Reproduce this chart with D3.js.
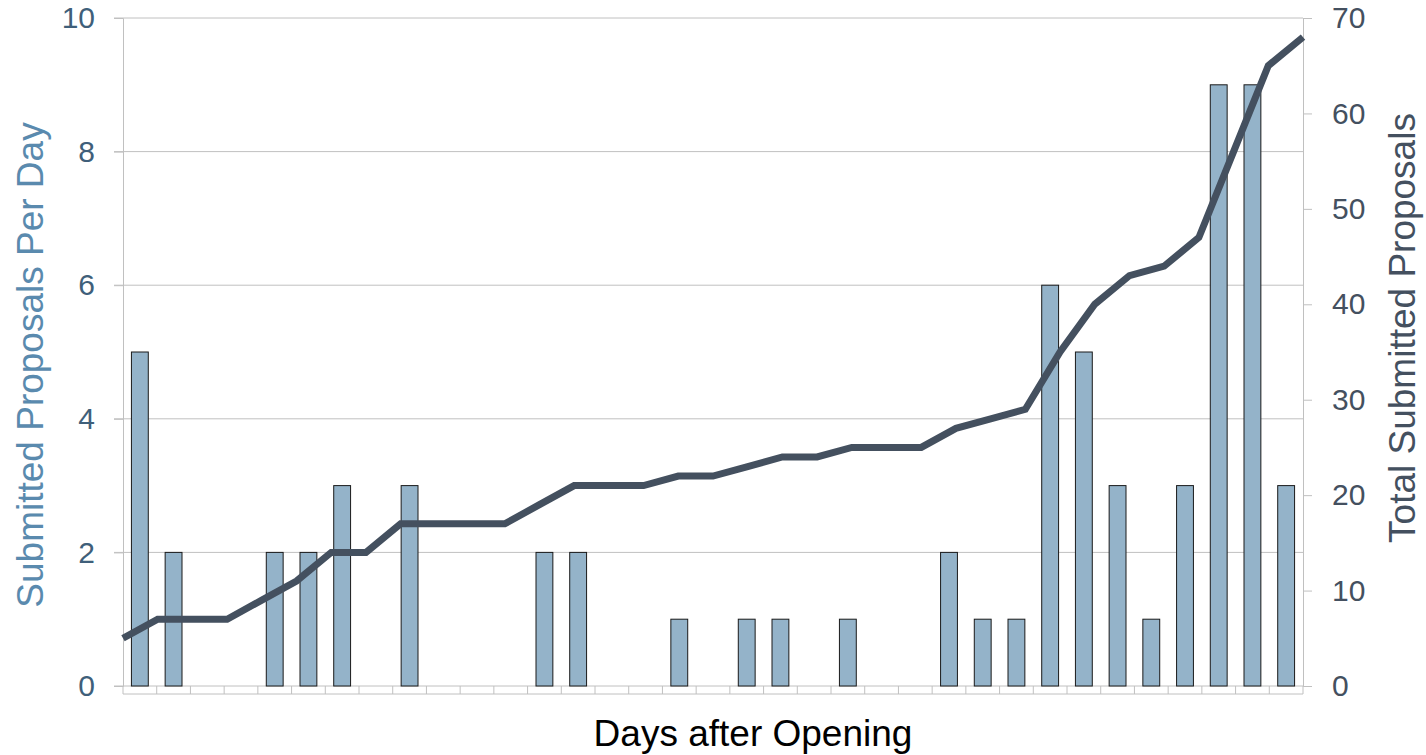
<!DOCTYPE html>
<html><head><meta charset="utf-8">
<script src="https://cdn.jsdelivr.net/npm/d3@7"></script>
<style>body{margin:0;background:#fff;}svg{display:block;font-family:"Liberation Sans",Arial,sans-serif;}</style>
</head><body><svg id="c" width="1426" height="755"></svg>
<script>
const days = d3.range(1, 36);
const perDay = [5,2,0,0,2,2,3,0,3,0,0,0,2,2,0,0,1,0,1,1,0,1,0,0,2,1,1,6,5,3,1,3,9,9,3];
const total = [5,7,7,7,9,11,14,14,17,17,17,17,19,21,21,21,22,22,23,24,24,25,25,25,27,28,29,35,40,43,44,47,56,65,68];
const leftTicks = [0,2,4,6,8,10];
const rightTicks = [0,10,20,30,40,50,60,70];

const svg = d3.select("#c");
const L = 123, R = 1303, T = 18, B = 686;
const x = d3.scaleBand().domain(days).range([L, R]).paddingInner(0.5).paddingOuter(0.25);
const xb = d3.scaleBand().domain(days).range([L, R]);
const xl = d3.scalePoint().domain(days).range([L, R]);
const yL = d3.scaleLinear().domain([0, 10]).range([B, T]);
const yR = d3.scaleLinear().domain([0, 70]).range([B, T]);
const grid = "#c0c0c0";
const ff = "Liberation Sans, Arial, sans-serif";

// gridlines
svg.append("g").selectAll("line").data(leftTicks.filter(d => d > 0)).join("line")
  .attr("x1", L - 9).attr("x2", R).attr("y1", d => yL(d)).attr("y2", d => yL(d))
  .attr("stroke", grid).attr("stroke-width", 1);

// left axis
const gl = svg.append("g").attr("transform", `translate(${L},0)`)
  .call(d3.axisLeft(yL).tickValues(leftTicks).tickSize(9).tickPadding(19));
gl.select(".domain").attr("stroke", grid);
gl.selectAll(".tick line").attr("stroke", grid);
gl.selectAll("text").attr("fill", "#3f5f7a").style("font-size", "30px").style("font-family", ff);

// right axis
const gr = svg.append("g").attr("transform", `translate(${R},0)`)
  .call(d3.axisRight(yR).tickValues(rightTicks).tickSize(9).tickPadding(20));
gr.select(".domain").attr("stroke", grid);
gr.selectAll(".tick line").attr("stroke", grid);
gr.selectAll("text").attr("fill", "#44505f").style("font-size", "30px").style("font-family", ff);

// bottom axis
svg.append("line").attr("x1", L - 9).attr("x2", R).attr("y1", B).attr("y2", B).attr("stroke", grid);
svg.append("line").attr("x1", L).attr("x2", R).attr("y1", B + 8).attr("y2", B + 8).attr("stroke", grid);
svg.append("g").selectAll("line").data(days).join("line")
  .attr("x1", d => xb(d)).attr("x2", d => xb(d)).attr("y1", B).attr("y2", B + 8).attr("stroke", grid);
svg.append("line").attr("x1", R).attr("x2", R).attr("y1", B).attr("y2", B + 8).attr("stroke", grid);

// bars
svg.append("g").selectAll("rect").data(days.map((d, i) => ({d, v: perDay[i]})).filter(e => e.v > 0)).join("rect")
  .attr("x", e => x(e.d)).attr("width", x.bandwidth())
  .attr("y", e => yL(e.v)).attr("height", e => yL(0) - yL(e.v))
  .attr("fill", "#94b3c9").attr("stroke", "#1a1a1a").attr("stroke-width", 1);

// line
svg.append("path").datum(days.map((d, i) => [xl(d), yR(total[i])]))
  .attr("d", d3.line()).attr("fill", "none").attr("stroke", "#44505f")
  .attr("stroke-width", 7).attr("stroke-linejoin", "miter");

// titles
svg.append("text").attr("transform", `translate(43,365) rotate(-90)`)
  .attr("text-anchor", "middle").attr("fill", "#5a8aae").style("font-size", "37px")
  .text("Submitted Proposals Per Day");
svg.append("text").attr("transform", `translate(1415,328) rotate(-90)`)
  .attr("text-anchor", "middle").attr("fill", "#44505f").style("font-size", "37px")
  .text("Total Submitted Proposals");
svg.append("text").attr("x", 753).attr("y", 746)
  .attr("text-anchor", "middle").attr("fill", "#000").style("font-size", "37px")
  .text("Days after Opening");
</script></body></html>
